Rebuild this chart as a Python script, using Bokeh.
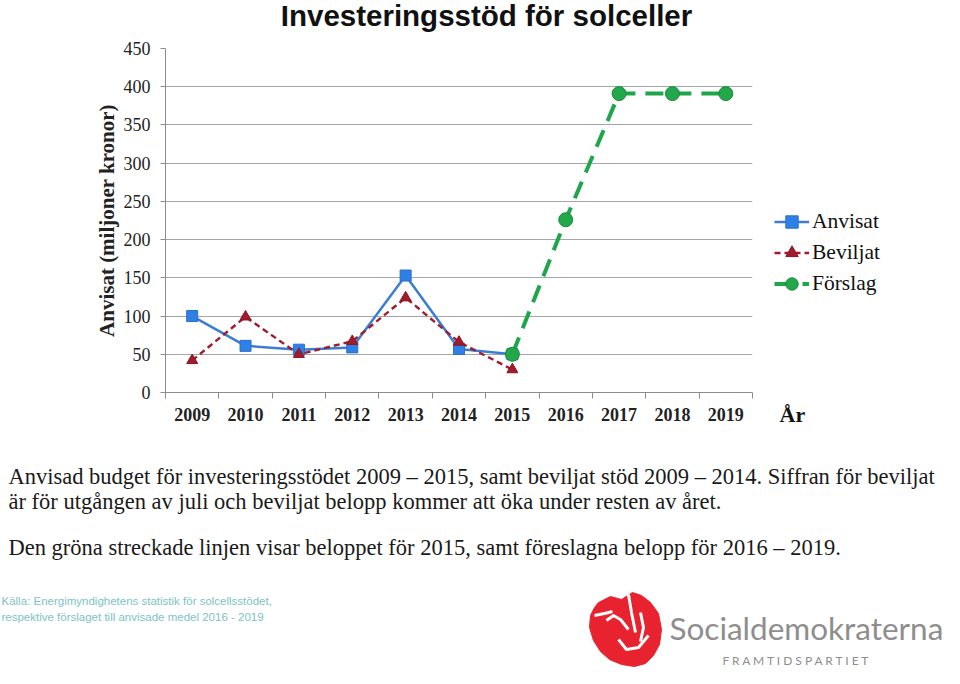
from bokeh.plotting import figure
from bokeh.models import Legend, LegendItem, FixedTicker, Range1d
from bokeh.layouts import row, column
from bokeh.core.properties import value
from bokeh.embed import file_html
from bokeh.resources import INLINE

years = [2009, 2010, 2011, 2012, 2013, 2014, 2015, 2016, 2017, 2018, 2019]
anvisat_years = [2009, 2010, 2011, 2012, 2013, 2014, 2015]
anvisat = [100, 61, 56, 59, 153, 57, 50]
beviljat_years = [2009, 2010, 2011, 2012, 2013, 2014, 2015]
beviljat = [42, 99, 50, 67, 124, 66, 30]
forslag_years = [2015, 2016, 2017, 2018, 2019]
forslag = [50, 226, 391, 391, 391]
y_ticks = [0, 50, 100, 150, 200, 250, 300, 350, 400, 450]
legend_labels = ["Anvisat", "Beviljat", "Förslag"]

SERIF = "Liberation Serif"
SANS = "Liberation Sans"
W, H = 944, 668
TT = 38            # title strip height
TOP_H = 432        # bottom of chart strip (page y)
FL, FT, FR, FB = 165, 48, 752, 392  # chart frame in page coords
AW = FR + 8                          # width of chart figure
PH = TOP_H - TT

BLUE, BLUE_D = "#2f80e6", "#3b7dd3"
RED = "#a01c2c"
GREEN, GREEN_D = "#22a84b", "#1fa64b"


def blank(width, height, x0, x1, y0, y1):
    f = figure(width=width, height=height, output_backend="svg", toolbar_location=None,
               title=None, x_range=Range1d(x0, x1), y_range=Range1d(y1, y0),
               min_border=0, x_axis_type=None, y_axis_type=None)
    f.outline_line_color = None
    f.grid.visible = False
    return f


# ---------------- title strip ----------------
t = blank(W, TT, 0, W, 0, TT)
t.text(x=[486], y=[15], text=["Investeringsstöd för solceller"], text_font=value(SANS),
       text_font_style="bold", text_font_size="29.5px", text_color="#111111",
       text_align="center", text_baseline="middle")

# ---------------- chart figure ----------------
p = figure(width=AW, height=PH, output_backend="svg", toolbar_location=None, title=None,
           x_range=Range1d(2008.5, 2019.5), y_range=Range1d(0, 450),
           min_border_left=FL, min_border_right=AW - FR,
           min_border_top=FT - TT, min_border_bottom=TOP_H - FB)
p.outline_line_color = None
p.xgrid.grid_line_color = None
p.ygrid.grid_line_color = "#a6a6a6"
p.ygrid.ticker = FixedTicker(ticks=y_ticks)

p.xaxis.ticker = FixedTicker(ticks=years, minor_ticks=[y - 0.5 for y in years] + [2019.5])
p.xaxis.major_tick_out = 0
p.xaxis.major_tick_in = 0
p.xaxis.minor_tick_out = 6
p.xaxis.minor_tick_in = 0
p.xaxis.minor_tick_line_color = "#8c8c8c"
p.xaxis.axis_line_color = "#8c8c8c"
p.xaxis.major_label_text_font = SERIF
p.xaxis.major_label_text_font_style = "bold"
p.xaxis.major_label_text_font_size = "18px"
p.xaxis.major_label_text_color = "#222222"
p.xaxis.major_label_standoff = 9

p.yaxis.ticker = FixedTicker(ticks=y_ticks)
p.yaxis.minor_tick_line_color = None
p.yaxis.major_tick_out = 5
p.yaxis.major_tick_in = 0
p.yaxis.major_tick_line_color = "#8c8c8c"
p.yaxis.axis_line_color = "#8c8c8c"
p.yaxis.major_label_text_font = SERIF
p.yaxis.major_label_text_font_size = "18px"
p.yaxis.major_label_text_color = "#222222"
p.yaxis.major_label_standoff = 10
p.yaxis.axis_label = "Anvisat (miljoner kronor)"
p.yaxis.axis_label_text_font = SERIF
p.yaxis.axis_label_text_font_style = "bold"
p.yaxis.axis_label_text_font_size = "21px"
p.yaxis.axis_label_text_color = "#222222"
p.yaxis.axis_label_standoff = 2


def draw_series(fig, xs, ys):
    r = []
    r.append([fig.line(xs[0], ys[0], line_color=BLUE_D, line_width=2.5),
              fig.scatter(xs[0], ys[0], marker="square", size=11,
                          fill_color=BLUE, line_color="#2a6fc9")])
    r.append([fig.line(xs[1], ys[1], line_color=RED, line_width=2.4, line_dash="6 4"),
              fig.scatter(xs[1], ys[1], marker="triangle", size=11,
                          fill_color=RED, line_color="#8a1525")])
    r.append([fig.line(xs[2], ys[2], line_color=GREEN_D, line_width=4, line_dash="18 10"),
              fig.scatter(xs[2], ys[2], marker="circle", size=14,
                          fill_color=GREEN, line_color="#178a3b")])
    return r


draw_series(p, [anvisat_years, beviljat_years, forslag_years],
            [anvisat, beviljat, forslag])

# ---------------- right strip: legend and axis name ----------------
q = blank(W - AW, PH, AW, W, TT, TOP_H)
off = [-5000, -4990]
legend_r = draw_series(q, [off, off, off], [off, off, off])
legend = Legend(items=[LegendItem(label=s, renderers=rr) for s, rr in zip(legend_labels, legend_r)],
                location=(774 - AW, TOP_H - 299), padding=0, margin=0, spacing=0,
                glyph_width=35, glyph_height=31, label_height=31, label_standoff=3,
                label_text_font=SERIF, label_text_font_size="21.5px",
                label_text_color="#111111", label_text_baseline="middle",
                border_line_alpha=0, background_fill_alpha=0)
q.add_layout(legend)
q.text(x=[779], y=[414], text=["År"], text_font=value(SERIF), text_font_style="bold",
       text_font_size="22px", text_color="#111111", text_baseline="middle")

# ---------------- bottom strip: notes, source, logo ----------------
b = blank(W, H - TOP_H, 0, W, TOP_H, H)

notes = ["Anvisad budget för investeringsstödet 2009 – 2015, samt beviljat stöd 2009 – 2014. Siffran för beviljat",
         "är för utgången av juli och beviljat belopp kommer att öka under resten av året.",
         "Den gröna streckade linjen visar beloppet för 2015, samt föreslagna belopp för 2016 – 2019."]
b.text(x=[8, 8, 8], y=[476, 501, 547], text=notes, text_font=value(SERIF),
       text_font_size="22.5px", text_color="#1a1a1a", text_baseline="middle")

source = ["Källa: Energimyndighetens statistik för solcellsstödet,",
          "respektive förslaget till anvisade medel 2016 - 2019"]
b.text(x=[1, 1], y=[600, 616], text=source, text_font=value(SANS),
       text_font_size="11.5px", text_color="#7cc3c5", text_baseline="middle")

b.text(x=[669], y=[627], text=["Socialdemokraterna"], text_font=value("Lato"),
       text_font_size="31.5px", text_color="#8e8e8e", text_baseline="middle")
b.text(x=[722], y=[660], text=["F   R   A   M   T   I   D   S   P   A   R   T   I   E   T"],
       text_font=value("Lato"), text_font_size="12px", text_color="#8e8e8e",
       text_baseline="middle")

# logo rose (decorative)
dy = -13
rose_x = [598, 610, 621, 632, 641, 650, 658, 661, 659, 653, 645, 634, 621, 609, 600, 593, 589, 590, 594]
rose_y = [615, 609, 612, 605, 608, 615, 626, 642, 657, 668, 676, 679, 677, 672, 664, 653, 640, 628, 620]
b.patch(rose_x, [v + dy for v in rose_y], fill_color="#e8232f", line_color="#e8232f", line_width=1)
wl_x = [[606, 613, 620, 628], [618, 626, 638, 648], [628, 631, 635], [594, 604, 612], [640, 643, 640]]
wl_y = [[633, 628, 632, 642], [652, 662, 660, 648], [607, 625, 645], [628, 626, 624], [625, 640, 654]]
b.multi_line(xs=wl_x, ys=[[v + dy for v in s] for s in wl_y], line_color="white", line_width=3)

layout = column(t, row(p, column(q)), b)
open("out.html", "w").write(file_html(layout, INLINE))
